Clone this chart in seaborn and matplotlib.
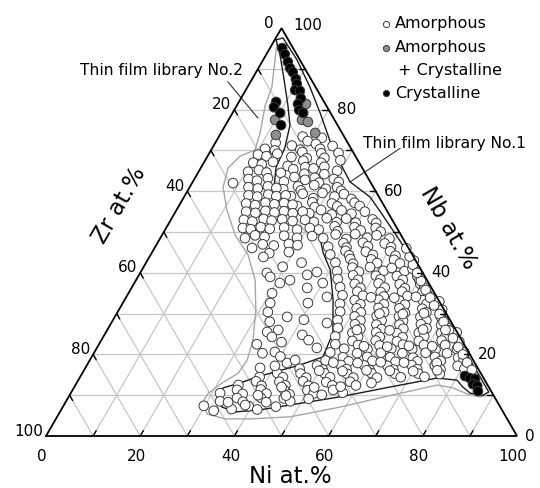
import numpy as np
import pandas as pd
import matplotlib
matplotlib.use("Agg")
import matplotlib.pyplot as plt
import seaborn as sns

# ---------------- data (Ni at.%, Nb at.%; Zr = 100 - Ni - Nb) ----------------
lib1_amorph_ni = [
    17.8, 19.4, 22.0,
    16.6, 18.9, 21.5, 23.0, 25.3,
    17.9, 19.6, 21.3, 23.8, 25.0, 27.4,
    18.2, 20.9, 22.1, 24.9, 26.1, 28.7,
    17.6, 19.8, 22.7, 24.0, 27.0, 29.3,
    19.3, 21.0, 23.6, 25.4, 26.9, 29.6, 31.0,
    20.1, 22.9, 24.0, 26.2, 29.1, 31.3, 32.6,
    22.6, 24.8, 27.6, 28.9, 31.9, 33.6, 35.8,
    25.1, 27.9, 29.0, 32.2, 33.7, 36.9, 38.4,
    28.6, 30.7, 33.5, 35.1, 37.6, 40.2,
    30.6, 32.9, 35.5, 37.1, 39.6, 42.8, 44.0,
    32.6, 35.6, 36.8, 39.9, 41.6, 44.5, 46.0,
    34.6, 36.8, 39.6, 40.9, 43.9, 45.6, 48.7,
    36.7, 39.5, 40.7, 43.6, 45.1, 48.3, 50.1,
    38.1, 40.9, 42.2, 45.3, 47.2, 50.4, 52.1,
    40.2, 42.9, 44.1, 47.4, 49.1, 52.3, 54.0, 56.6,
    41.6, 44.4, 46.3, 48.1, 51.4, 52.8, 55.9, 57.3,
    42.7, 45.5, 47.1, 50.4, 51.8, 54.9, 56.6, 59.3, 60.2,
    44.2, 46.9, 48.6, 51.9, 53.7, 56.5, 58.1, 60.8, 62.1,
    45.7, 48.4, 50.1, 53.4, 54.6, 57.9, 59.6, 62.3, 63.9,
    46.2, 48.9, 50.6, 53.9, 55.6, 58.4, 60.1, 63.3, 64.6, 67.0,
    47.2, 50.3, 51.7, 54.9, 56.6, 59.4, 61.1, 64.3, 65.6, 68.6,
    47.7, 50.9, 52.6, 55.5, 57.1, 60.3, 61.7, 64.9, 66.6, 69.3, 70.4,
    48.7, 51.9, 53.6, 56.5, 58.1, 61.4, 62.7, 65.9, 67.6, 70.3, 72.0,
    49.2, 52.4, 54.1, 57.4, 58.7, 61.9, 63.6, 66.5, 68.1, 71.3, 72.6, 74.5,
    50.2, 53.4, 55.1, 58.3, 59.7, 62.9, 64.6, 67.5, 69.1, 72.3, 73.6, 76.2,
    50.1, 52.6, 55.9, 57.6, 60.9, 62.6, 65.5, 67.1, 70.4, 72.1, 75.0, 76.6, 78.6,
    50.1, 53.4, 55.1, 58.5, 60.1, 63.4, 65.1, 68.3, 69.7, 72.9, 74.6, 77.9, 79.4,
    45.6, 48.9, 50.6, 53.9, 55.6, 58.9, 60.6, 63.9, 65.6, 68.9, 70.6, 73.9, 75.6, 78.8, 80.6,
    38.1, 41.4, 43.1, 46.4, 48.1, 51.4, 53.1, 56.4, 58.1, 61.4, 63.1, 66.4, 68.1, 71.4, 73.1, 76.0,
    34.6, 37.9, 39.6, 42.9, 44.6, 47.9, 49.6, 52.9, 54.6, 57.9, 59.6, 62.6,
    31.7, 34.9, 36.6, 39.9, 41.6, 44.9, 46.6, 49.9, 51.6, 55.3, 57.7,
    32.7, 35.9, 37.6, 40.9, 42.6, 45.9, 47.6, 51.2,
    36.1, 39.4, 41.6, 45.2,
    60.6, 62.7, 64.6, 66.4, 68.6, 70.4, 72.6, 74.4, 76.6, 78.5, 80.4, 82.3,
    56.9, 58.8, 55.2, 53.5,
    52.0, 57.0, 61.5,
    55.8, 60.8, 65.2,
    53.0, 60.0, 67.0, 71.8,
    56.5, 61.5, 66.0, 71.0,
    52.0, 57.2, 62.0, 67.0, 74.0,
    50.0, 55.0, 60.0, 65.0, 70.0, 75.0,
    44.0, 51.0, 56.5,
    40.0, 46.0, 53.5,
]
lib1_amorph_nb = [
    73.4, 72.3, 73.1,
    71.2, 70.2, 71.6, 70.4, 71.1,
    68.4, 69.6, 68.1, 69.3, 68.2, 69.4,
    66.2, 67.5, 65.9, 67.0, 66.0, 67.6,
    64.5, 65.4, 64.3, 65.6, 64.2, 65.0,
    62.4, 63.5, 62.8, 63.3, 62.1, 63.0, 62.3,
    60.5, 61.2, 60.2, 61.5, 60.6, 61.0, 60.1,
    58.8, 59.4, 58.3, 59.6, 58.7, 59.3, 58.1,
    56.4, 57.3, 56.1, 57.0, 56.3, 57.2, 56.4,
    54.6, 55.4, 54.3, 55.3, 54.5, 55.0,
    52.5, 53.4, 52.4, 53.3, 52.3, 53.1, 52.2,
    50.6, 51.4, 50.2, 51.2, 50.4, 51.0, 50.1,
    48.5, 49.4, 48.3, 49.5, 48.6, 49.2, 48.4,
    46.4, 47.3, 46.2, 47.4, 46.5, 47.2, 46.3,
    44.5, 45.4, 44.3, 45.2, 44.4, 45.3, 44.2,
    42.5, 43.4, 42.2, 43.3, 42.4, 43.2, 42.3, 43.0,
    40.4, 41.3, 40.3, 41.4, 40.5, 41.2, 40.4, 41.0,
    38.5, 39.4, 38.3, 39.3, 38.4, 39.2, 38.3, 39.1, 38.2,
    36.5, 37.3, 36.3, 37.4, 36.4, 37.2, 36.2, 37.3, 36.4,
    34.5, 35.4, 34.4, 35.3, 34.2, 35.4, 34.3, 35.2, 34.4,
    32.4, 33.3, 32.3, 33.4, 32.3, 33.2, 32.2, 33.3, 32.4, 33.0,
    30.5, 31.3, 30.3, 31.4, 30.4, 31.3, 30.2, 31.2, 30.3, 31.0,
    28.4, 29.3, 28.3, 29.4, 28.3, 29.3, 28.2, 29.2, 28.3, 29.1, 28.2,
    26.5, 27.4, 26.3, 27.3, 26.2, 27.3, 26.3, 27.4, 26.4, 27.2, 26.5,
    24.4, 25.3, 24.3, 25.4, 24.3, 25.2, 24.2, 25.3, 24.4, 25.2, 24.3, 25.4,
    22.5, 23.3, 22.3, 23.4, 22.2, 23.2, 22.4, 23.3, 22.3, 23.4, 22.3, 23.1,
    20.5, 21.4, 20.3, 21.3, 20.4, 21.4, 20.3, 21.3, 20.4, 21.2, 20.3, 21.3, 20.5,
    18.5, 19.3, 18.3, 19.4, 18.4, 19.3, 18.2, 19.2, 18.3, 19.4, 18.4, 19.2, 18.5,
    16.5, 17.3, 16.3, 17.4, 16.4, 17.3, 16.2, 17.2, 16.3, 17.4, 16.4, 17.3, 16.3, 17.2, 16.5,
    14.5, 15.4, 14.4, 15.3, 14.3, 15.4, 14.4, 15.2, 14.3, 15.4, 14.3, 15.3, 14.4, 15.3, 14.5, 15.2,
    12.5, 13.4, 12.3, 13.3, 12.4, 13.4, 12.3, 13.2, 12.4, 13.3, 12.4, 13.0,
    10.5, 11.3, 10.3, 11.4, 10.4, 11.3, 10.2, 11.2, 10.4, 11.3, 10.6,
    8.5, 9.3, 8.4, 9.4, 8.3, 9.2, 8.5, 9.1,
    6.6, 7.3, 6.5, 7.2,
    38.0, 35.8, 33.9, 32.0, 29.9, 28.0, 25.9, 24.0, 21.8, 20.0, 18.0, 16.2,
    42.0, 40.0, 44.0, 46.0,
    34.0, 33.9, 34.1,
    30.0, 29.9, 30.1,
    26.0, 25.9, 26.1, 26.0,
    22.0, 21.9, 22.1, 22.0,
    18.0, 17.9, 18.1, 18.0, 17.9,
    16.0, 15.9, 16.1, 16.0, 15.9, 16.1,
    12.0, 11.9, 12.1,
    10.0, 9.9, 10.1,
]

lib2_amorph_ni = [
    12.8, 11.3, 13.6,
    10.5, 12.5, 14.5,
    10.5, 12.5, 14.6,
    10.5, 12.6, 14.5,
    11.5, 13.5, 15.5,
    8.7,
    12.5, 14.6, 16.5, 18.5,
    13.5, 15.5, 17.6, 19.5, 21.4,
    14.0, 16.1, 18.0, 20.1, 22.0, 24.0,
    15.0, 17.1, 19.0, 21.1, 23.0, 25.1, 27.0,
    15.5, 17.5, 19.6, 21.5, 23.6, 26.0, 28.5,
    16.3, 18.1, 20.0, 22.1, 25.0, 28.0, 30.5,
    18.0, 19.8, 22.0, 26.0, 29.0, 32.0,
    20.7, 22.5, 25.0, 28.0, 30.0,
    25.0, 29.0,
    24.2, 26.9, 28.1, 30.9, 32.7, 35.7, 37.4, 37.3, 42.6, 30.5,
    31.3, 31.9, 39.3, 36.6, 45.8, 34.2, 36.3, 35.8, 42.0, 35.8,
    38.3, 46.7, 42.2, 43.6, 37.1, 40.0,
    33.0, 29.5, 40.0, 33.5, 40.5, 38.5, 33.5, 44.0, 40.0,
    34.5, 32.5, 38.5, 29.8,
]
lib2_amorph_nb = [
    71.9, 70.4, 70.0,
    69.0, 68.6, 69.2,
    67.0, 66.6, 67.2,
    64.8, 65.2, 64.6,
    63.0, 62.6, 63.2,
    62.0,
    61.0, 60.7, 61.2, 60.8,
    59.0, 58.7, 59.2, 58.8, 59.0,
    57.0, 56.6, 57.2, 56.8, 57.1, 56.7,
    55.0, 54.7, 55.2, 54.8, 55.1, 54.6, 55.0,
    53.0, 52.6, 53.2, 52.8, 53.1, 52.7, 53.0,
    51.0, 50.7, 51.2, 50.8, 51.1, 50.6, 51.0,
    48.5, 49.2, 48.8, 49.1, 48.6, 49.0,
    46.1, 47.0, 46.7, 47.1, 46.8,
    44.8, 45.1,
    43.9, 40.0, 39.0, 37.5, 38.2, 39.5, 40.2, 36.3, 34.1, 35.0,
    32.6, 30.4, 32.6, 29.2, 27.7, 25.5, 26.0, 24.3, 24.8, 20.3,
    20.6, 21.6, 17.9, 18.6, 16.7, 17.2,
    42.5, 41.5, 37.5, 28.0, 28.5, 23.0, 22.5, 23.5, 19.5,
    8.3, 6.2, 7.6, 7.4,
]

mixed_ni = [14.5, 15.6, 17.1, 20.0, 9.9, 11.9]
mixed_nb = [81.4, 77.5, 77.0, 74.3, 77.5, 73.8]

cryst_ni = [2.6, 3.9, 5.5, 6.7, 7.8, 9.3, 10.1, 10.5, 11.6, 12.7, 12.8, 13.8, 15.0,
            7.9, 8.1, 10.1, 11.8,
            81.6, 82.9, 84.1, 84.3, 85.4, 86.2]
cryst_nb = [95.1, 93.6, 91.7, 90.2, 89.2, 87.5, 86.3, 84.8, 84.6, 82.8, 81.4, 79.9, 79.2,
            81.9, 80.6, 79.2, 76.2,
            14.7, 14.2, 14.0, 12.7, 12.3, 11.0]

# outlines of the two thin film libraries
lib1_outline_ni = [0.3, 3.0, 6.9, 10.8, 13.7, 15.4, 15.9, 17.7, 21.9, 27.7, 32.2, 36.4, 40.0,
                   44.3, 48.3, 49.1, 45.2, 37.6, 34.7, 31.7, 31.5, 33.8, 37.2, 42.2, 48.0,
                   57.6, 67.0, 75.9, 80.4, 82.5, 84.8, 87.8, 88.6, 85.4, 79.4, 69.4, 58.4,
                   51.6, 43.8, 39.5, 33.4, 29.0, 24.0, 18.6, 13.3, 7.2, 1.5, 0.3]
lib1_outline_nb = [97.1, 93.4, 87.3, 81.1, 76.2, 70.6, 65.9, 61.5, 58.6, 55.4, 51.0, 44.9, 40.7,
                   33.3, 25.2, 19.4, 17.4, 14.5, 13.0, 11.8, 9.6, 7.1, 5.9, 6.4, 7.6,
                   9.6, 12.0, 14.2, 13.7, 12.0, 10.5, 10.0, 10.8, 14.0, 20.0, 30.0, 41.0,
                   47.5, 54.7, 58.6, 62.3, 66.9, 72.5, 79.2, 85.5, 92.2, 97.6, 97.1]

lib2_outline_ni = [1.0, 5.2, 6.0, 8.3, 9.3, 6.9, 5.8, 7.1, 10.7, 15.5, 20.7, 25.3, 29.1, 32.2,
                   33.4, 33.1, 30.9, 29.2, 29.1, 31.5, 35.9, 41.2, 49.5, 58.9, 64.4, 76.8,
                   80.5, 84.3, 87.3, 88.9]
lib2_outline_nb = [96.0, 85.5, 81.1, 74.3, 70.1, 68.6, 65.7, 61.0, 55.4, 49.3, 44.4, 38.2, 30.9,
                   23.5, 18.6, 15.4, 13.0, 10.5, 8.1, 5.4, 4.2, 4.2, 4.7, 7.1, 8.8, 12.5,
                   11.8, 10.3, 9.6, 10.0]

tick_values = [0, 20, 40, 60, 80, 100]
legend_labels = ["Amorphous", "Amorphous", "+ Crystalline", "Crystalline"]


def to_xy(ni, nb):
    ni = np.asarray(ni, dtype=float)
    nb = np.asarray(nb, dtype=float)
    return ni + nb / 2.0, nb * np.sqrt(3) / 2.0


sns.set_style("white")
plt.rcParams["font.family"] = ["DejaVu Sans"]
plt.rcParams["text.color"] = "black"

fig = plt.figure(figsize=(5.4, 4.88), dpi=100)
ax = fig.add_axes([0, 0, 1, 1])

GRID = "#c6c6c6"
for v in range(10, 100, 10):
    for a, b in (([0, 100 - v], [v, v]), ([v, v], [0, 100 - v]), ([100 - v, 0], [0, 100 - v])):
        gx, gy = to_xy(a, b)
        ax.plot(gx, gy, color=GRID, lw=0.9, zorder=1)

# library outlines
ox, oy = to_xy(lib2_outline_ni, lib2_outline_nb)
ax.plot(ox, oy, color="#a6a6a6", lw=1.0, zorder=2)
ox, oy = to_xy(lib1_outline_ni, lib1_outline_nb)
ax.plot(ox, oy, color="#1c1c1c", lw=1.0, zorder=2)

# points
phase = (["Amorphous"] * (len(lib1_amorph_ni) + len(lib2_amorph_ni))
         + ["Amorphous + Crystalline"] * len(mixed_ni)
         + ["Crystalline"] * len(cryst_ni))
df = pd.DataFrame({
    "Ni": lib1_amorph_ni + lib2_amorph_ni + mixed_ni + cryst_ni,
    "Nb": lib1_amorph_nb + lib2_amorph_nb + mixed_nb + cryst_nb,
    "phase": phase,
})
df["x"], df["y"] = to_xy(df["Ni"], df["Nb"])
palette = {"Amorphous": "white", "Amorphous + Crystalline": "#8e8e8e", "Crystalline": "black"}
sns.scatterplot(data=df, x="x", y="y", hue="phase", palette=palette, s=48,
                edgecolor="#3a3a3a", linewidth=0.7, legend=False, ax=ax, zorder=4)

# triangle frame
fx, fy = to_xy([0, 100, 0, 0], [0, 0, 100, 0])
ax.plot(fx, fy, color="black", lw=1.3, zorder=6, solid_joinstyle="miter")

# ticks
L = 1.3
for v in range(10, 100, 10):
    for a, b in (([v, v], [0, L]), ([100 - v, 100 - v - L], [v, v]), ([0, L], [100 - v, 100 - v - L])):
        tx, ty = to_xy(a, b)
        ax.plot(tx, ty, color="black", lw=1.0, zorder=6)

FS = 11
for v in tick_values:
    ax.annotate(str(v), xy=to_xy(v, 0), xytext=(-4, -20), textcoords="offset pixels",
                ha="center", va="center", fontsize=FS)
    off = (12, 3) if v == 100 else (8, 0)
    ax.annotate(str(v), xy=to_xy(100 - v, v), xytext=off, textcoords="offset pixels",
                ha="left", va="center", fontsize=FS)
    off = (-8, 5) if v == 0 else (-3, 5)
    ax.annotate(str(v), xy=to_xy(0, 100 - v), xytext=off, textcoords="offset pixels",
                ha="right", va="center", fontsize=FS)

# axis titles
ax.text(51.8, -8.7, "Ni at.%", fontsize=16.5, ha="center", va="center")
ax.text(85.4, 44.2, "Nb at.%", fontsize=16.5, ha="center", va="center",
        rotation=-60, rotation_mode="anchor")
ax.text(15.7, 49.0, "Zr at.%", fontsize=16.5, ha="center", va="center",
        rotation=60, rotation_mode="anchor")

# library annotations
ax.plot([38.6, 45.0], [75.2, 67.5], color="#303030", lw=0.8, zorder=3)
ax.text(41.8, 77.5, "Thin film library No.2", fontsize=11.2, ha="right", va="center")
ax.plot([75.2, 64.5], [61.1, 53.9], color="#303030", lw=0.8, zorder=3)
ax.text(67.3, 62.2, "Thin film library No.1", fontsize=11.2, ha="left", va="center")

# legend
lx = 72.2
ax.scatter([lx], [87.5], s=20, facecolor="white", edgecolor="#3a3a3a", linewidth=0.7, zorder=6)
ax.scatter([lx], [82.4], s=20, facecolor="#8e8e8e", edgecolor="#3a3a3a", linewidth=0.7, zorder=6)
ax.scatter([lx], [72.8], s=20, facecolor="black", edgecolor="#3a3a3a", linewidth=0.7, zorder=6)
ax.text(74.1, 87.5, legend_labels[0], fontsize=11.5, ha="left", va="center")
ax.text(74.1, 82.4, legend_labels[1], fontsize=11.5, ha="left", va="center")
ax.text(74.7, 77.7, legend_labels[2], fontsize=11.5, ha="left", va="center")
ax.text(74.1, 72.8, legend_labels[3], fontsize=11.5, ha="left", va="center")

ax.set_xlim(-9.77, 104.88)
ax.set_ylim(-11.04, 92.57)
ax.set_aspect("equal", adjustable="box")
ax.axis("off")

fig.savefig("out.png", dpi=100)
